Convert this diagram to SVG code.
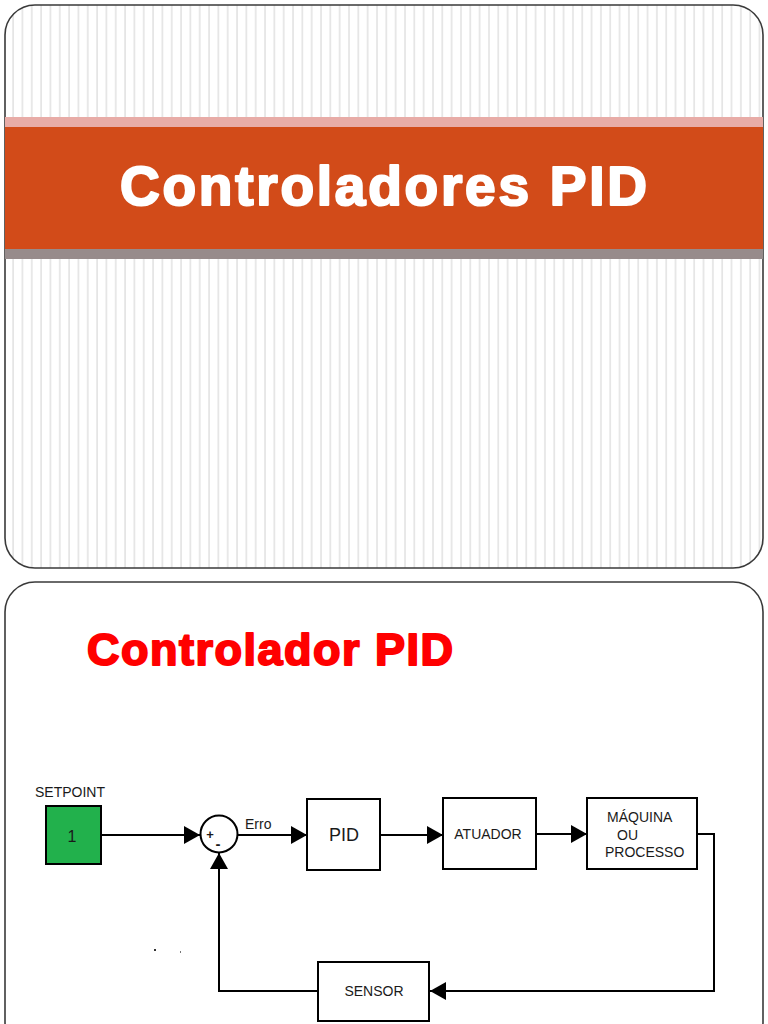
<svg xmlns="http://www.w3.org/2000/svg" width="768" height="1024" viewBox="0 0 768 1024">
<defs>
<pattern id="stripes" x="0" y="0" width="9.33" height="10" patternUnits="userSpaceOnUse">
<rect x="0" y="0" width="9.33" height="10" fill="#ffffff"/>
<rect x="3" y="0" width="1.6" height="10" fill="#e4e4e4"/>
</pattern>
<marker id="arrow" markerUnits="userSpaceOnUse" markerWidth="17" markerHeight="18" refX="16" refY="9" orient="auto">
<path d="M0,0 L16,9 L0,18 z" fill="#000"/>
</marker>
<clipPath id="slide1clip"><rect x="5" y="5" width="758" height="563" rx="30" ry="30"/></clipPath>
</defs>
<style>
.slide{stroke:#3a3a3a;stroke-width:1.6;}
.box{fill:#fff;stroke:#000;stroke-width:2;}
.conn{fill:none;stroke:#000;stroke-width:2;}
.lbl{font-family:"Liberation Sans",Arial,sans-serif;fill:#1a1a1a;}
.title{font-family:"Liberation Sans",Arial,sans-serif;font-weight:bold;}
</style>
<rect x="0" y="0" width="768" height="1024" fill="#ffffff"/>

<g id="slide1">
<rect x="5" y="5" width="758" height="563" rx="30" ry="30" fill="url(#stripes)" class="slide"/>
<g clip-path="url(#slide1clip)">
<rect x="0" y="117" width="768" height="10" fill="#e8aca7"/>
<rect x="0" y="127" width="768" height="122" fill="#d24b19"/>
<rect x="0" y="249" width="768" height="10" fill="#978b8b"/>
</g>
<text class="title" x="120" y="205" font-size="55" textLength="527" lengthAdjust="spacing" fill="#ffffff" stroke="#ffffff" stroke-width="2.2" stroke-linejoin="round">Controladores PID</text>
</g>

<g id="slide2">
<rect x="5" y="582" width="758" height="470" rx="30" ry="30" fill="#ffffff" class="slide"/>
<text class="title" x="87" y="665" font-size="45" textLength="366" lengthAdjust="spacing" fill="#ff0000" stroke="#ff0000" stroke-width="2" stroke-linejoin="round">Controlador PID</text>
<rect x="154" y="949" width="2" height="2" fill="#333"/>
<rect x="180" y="951" width="1" height="2" fill="#777"/>
</g>

<g id="connectors">
<line class="conn" x1="101" y1="835" x2="200" y2="835" marker-end="url(#arrow)"/>
<line class="conn" x1="238" y1="835" x2="307" y2="835" marker-end="url(#arrow)"/>
<line class="conn" x1="380" y1="835" x2="443" y2="835" marker-end="url(#arrow)"/>
<line class="conn" x1="536" y1="834" x2="587" y2="834" marker-end="url(#arrow)"/>
<polyline class="conn" points="697,834 714,834 714,991 430,991" marker-end="url(#arrow)"/>
<polyline class="conn" points="318,991 219,991 219,853" marker-end="url(#arrow)"/>
</g>

<g id="setpoint">
<text class="lbl" x="35" y="797" font-size="14">SETPOINT</text>
<rect x="46" y="806" width="55" height="58" fill="#22b14c" stroke="#000" stroke-width="2"/>
<text class="lbl" x="72" y="842" text-anchor="middle" font-size="16">1</text>
</g>

<g id="sum">
<circle cx="219" cy="834" r="18.5" fill="#fff" stroke="#000" stroke-width="2"/>
<text class="lbl" x="210" y="839" text-anchor="middle" font-size="13" font-weight="bold">+</text>
<text class="lbl" x="218" y="849" text-anchor="middle" font-size="15" font-weight="bold">-</text>
<text class="lbl" x="245" y="829" font-size="14">Erro</text>
</g>

<g id="pid">
<rect class="box" x="307" y="799" width="73" height="71"/>
<text class="lbl" x="344" y="841" text-anchor="middle" font-size="18">PID</text>
</g>

<g id="atuador">
<rect class="box" x="443" y="798" width="93" height="71"/>
<text class="lbl" x="488" y="839" text-anchor="middle" font-size="14">ATUADOR</text>
</g>

<g id="maquina">
<rect class="box" x="587" y="798" width="110" height="71"/>
<text class="lbl" x="607" y="822" font-size="14">MÁQUINA</text>
<text class="lbl" x="617" y="840" font-size="14">OU</text>
<text class="lbl" x="605" y="857" font-size="14">PROCESSO</text>
</g>

<g id="sensor">
<rect class="box" x="318" y="962" width="111" height="59"/>
<text class="lbl" x="374" y="996" text-anchor="middle" font-size="14">SENSOR</text>
</g>
</svg>
